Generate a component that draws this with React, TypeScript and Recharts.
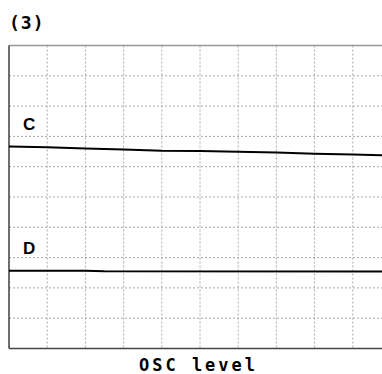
import React from "react";
import { LineChart, Line, XAxis, YAxis, CartesianGrid, ReferenceLine } from "recharts";

const xTicks = [0, 1, 2, 3, 4, 5, 6, 7, 8, 9, 10];
const yTicks = [0, 1, 2, 3, 4, 5, 6, 7, 8, 9, 10];
const cX = [0, 1, 2, 3, 4, 5, 6, 7, 8, 9, 10];
const cY = [6.67, 6.64, 6.6, 6.57, 6.53, 6.52, 6.49, 6.47, 6.43, 6.4, 6.37];
const dX = [0, 2, 2.5, 10];
const dY = [2.57, 2.57, 2.55, 2.54];
const title = "(3)";
const xLabel = "OSC level";
const seriesLabels = ["C", "D"];

const cData = cX.map((x, i) => ({ x, y: cY[i] }));
const dData = dX.map((x, i) => ({ x, y: dY[i] }));

const mono = "'DejaVu Sans Mono', monospace";

export default function App() {
  return (
    <div style={{ position: "absolute", left: 0, top: 0, width: 400, height: 374, background: "#fff" }}>
      <LineChart width={400} height={374} margin={{ top: 45.5, left: 9, right: 9, bottom: 25.5 }}>
        <CartesianGrid stroke="#a8a8a8" strokeDasharray="2 2" strokeWidth={1} />
        <XAxis type="number" dataKey="x" domain={[0, 10]} ticks={xTicks} hide allowDataOverflow />
        <YAxis type="number" domain={[0, 10]} ticks={yTicks} hide allowDataOverflow />
        <ReferenceLine y={10} stroke="#999" strokeWidth={1.5} />
        <ReferenceLine y={0} stroke="#444" strokeWidth={1.5} />
        <ReferenceLine x={0} stroke="#444" strokeWidth={1.5} />
        <Line data={cData} dataKey="y" stroke="#000" strokeWidth={2} dot={false} isAnimationActive={false} />
        <Line data={dData} dataKey="y" stroke="#000" strokeWidth={2} dot={false} isAnimationActive={false} />
      </LineChart>
      <div style={{ position: "absolute", left: 9, top: 12, fontFamily: mono, fontWeight: "bold", fontSize: 18, letterSpacing: 1, lineHeight: "22px" }}>{title}</div>
      <div style={{ position: "absolute", left: 23, top: 115, fontFamily: "'Liberation Sans', Arial, sans-serif", fontWeight: "bold", fontSize: 17, lineHeight: "20px" }}>{seriesLabels[0]}</div>
      <div style={{ position: "absolute", left: 23, top: 239, fontFamily: "'Liberation Sans', Arial, sans-serif", fontWeight: "bold", fontSize: 17, lineHeight: "20px" }}>{seriesLabels[1]}</div>
      <div style={{ position: "absolute", left: 0, width: 400 - 3, textAlign: "center", top: 355, fontFamily: mono, fontWeight: "bold", fontSize: 17, letterSpacing: 3, lineHeight: "20px", whiteSpace: "pre" }}>{xLabel}</div>
    </div>
  );
}
